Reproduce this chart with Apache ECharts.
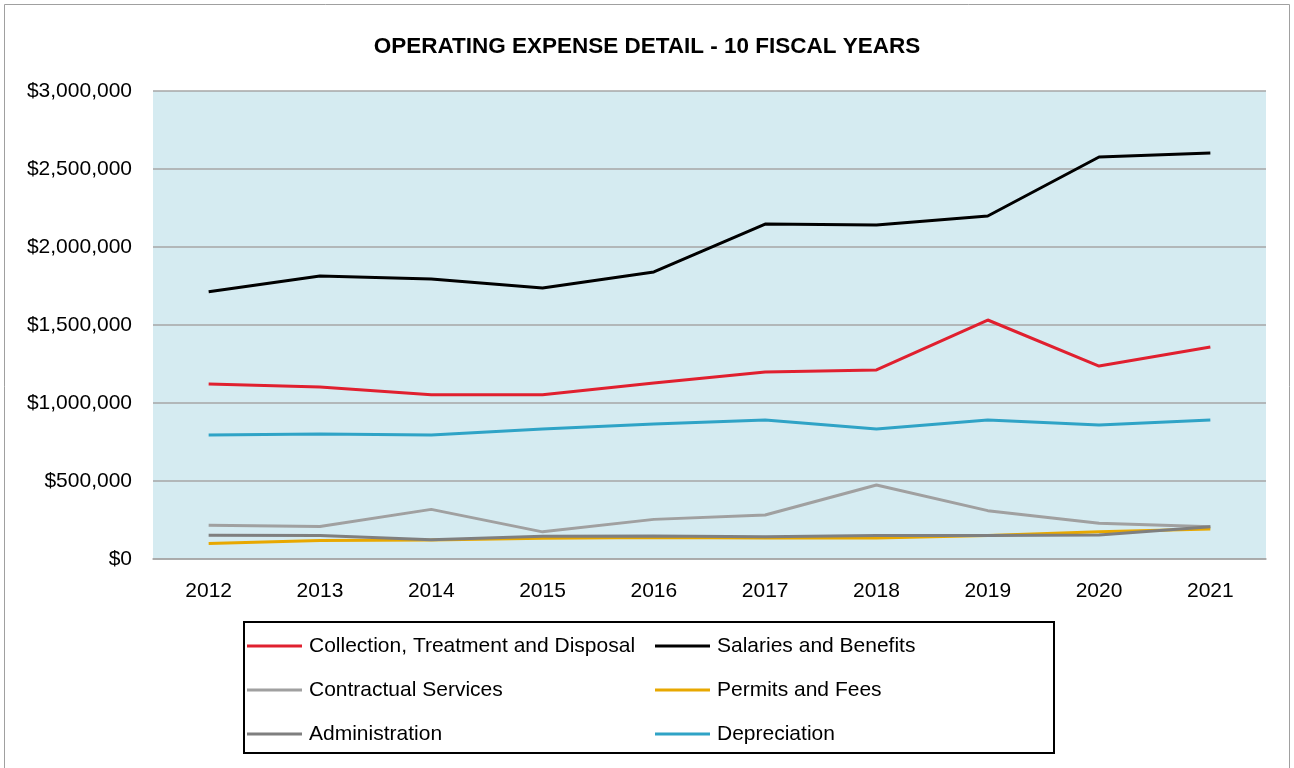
<!DOCTYPE html>
<html><head><meta charset="utf-8">
<script src="https://cdn.jsdelivr.net/npm/echarts@6/dist/echarts.min.js"></script>
<style>html,body{margin:0;padding:0;background:#fff}#c{width:1294px;height:768px}</style>
</head><body><div id="c"></div>
<script>
const years = ['2012','2013','2014','2015','2016','2017','2018','2019','2020','2021'];
const collection = [1122000,1103000,1053000,1053000,1128000,1198000,1212000,1532000,1237000,1359000];
const salaries = [1713000,1814000,1795000,1737000,1840000,2147000,2141000,2199000,2577000,2603000];
const contractual = [216000,208000,318000,174000,254000,282000,474000,310000,229000,207000];
const permits = [100000,118000,122000,133000,138000,135000,135000,150000,175000,192000];
const administration = [152000,151000,123000,146000,147000,143000,150000,150000,154000,207000];
const depreciation = [795000,801000,795000,833000,865000,891000,833000,891000,859000,891000];
const yTicks = ['$0','$500,000','$1,000,000','$1,500,000','$2,000,000','$2,500,000','$3,000,000'];

const FONT = 'Liberation Sans';
const names = ['Collection, Treatment and Disposal','Salaries and Benefits','Contractual Services','Permits and Fees','Administration','Depreciation'];
const colors = ['#E0202F','#000000','#A0A0A0','#E8A800','#7F7F7F','#2FA3C6'];
const datas = [collection,salaries,contractual,permits,administration,depreciation];

const chart = echarts.init(document.getElementById('c'), null, {renderer:'canvas'});
const legendCommon = {
  orient:'vertical', itemWidth:55, itemHeight:3, itemGap:22,
  textStyle:{fontFamily:FONT,fontSize:21,color:'#000',padding:[0,0,0,2],lineHeight:22},
  icon:'rect'
};
chart.setOption({
  animation:false,
  backgroundColor:'#fff',
  title:{text:'OPERATING EXPENSE DETAIL - 10 FISCAL YEARS',left:'center',top:30,
    textStyle:{fontFamily:FONT,fontSize:22.5,fontWeight:'bold',color:'#000'}},
  grid:{left:153,right:28,top:91,bottom:209,show:true,backgroundColor:'#D5EBF1',borderWidth:0},
  xAxis:{type:'category',data:years,boundaryGap:true,
    axisLine:{lineStyle:{color:'#A6A6A6',width:1.5}},axisTick:{show:false},
    axisLabel:{fontFamily:FONT,fontSize:21,color:'#000',margin:22}},
  yAxis:{type:'value',min:0,max:3000000,interval:500000,
    axisLine:{show:false},axisTick:{show:false},
    splitLine:{lineStyle:{color:'#A6A6A6',width:1.5}},
    axisLabel:{fontFamily:FONT,fontSize:21,color:'#000',margin:21,
      formatter:(v)=>yTicks[Math.round(v/500000)]}},
  legend:[
    Object.assign({left:242,top:630,data:[names[0],names[2],names[4]]},legendCommon),
    Object.assign({left:650,top:630,data:[names[1],names[3],names[5]]},legendCommon)
  ],
  series:names.map((n,i)=>({name:n,type:'line',data:datas[i],symbol:'none',
    itemStyle:{color:colors[i]},lineStyle:{color:colors[i],width:3}})),
  graphic:[
    {type:'rect',shape:{x:4.5,y:4.5,width:1285,height:770},style:{fill:'none',stroke:'#A0A0A0',lineWidth:1},silent:true},
    {type:'rect',shape:{x:244,y:622,width:810,height:131},style:{fill:'none',stroke:'#000',lineWidth:2},silent:true}
  ]
});
</script></body></html>
